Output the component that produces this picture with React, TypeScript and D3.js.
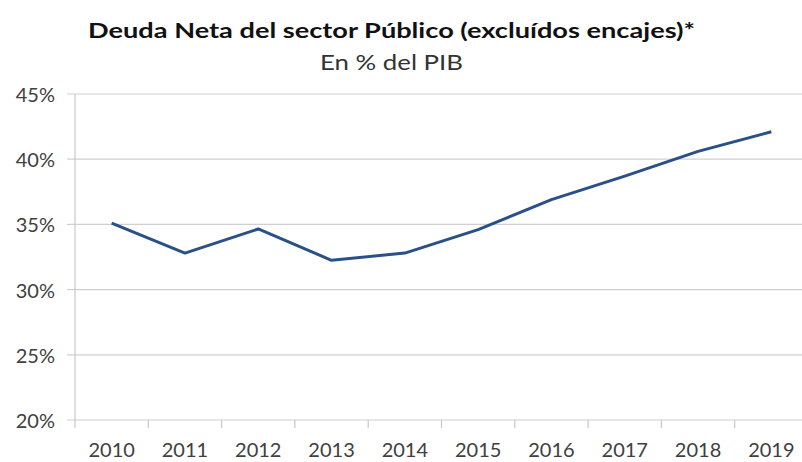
import { useEffect, useRef } from "react";
import * as d3 from "d3";

const YEARS = ["2010", "2011", "2012", "2013", "2014", "2015", "2016", "2017", "2018", "2019"];
const DEBT = [35.1, 32.8, 34.65, 32.25, 32.8, 34.6, 36.9, 38.7, 40.6, 42.1];
const Y_TICKS = [20, 25, 30, 35, 40, 45];

const TITLE = "Deuda Neta del sector Público (excluídos encajes)*";
const SUBTITLE = "En % del PIB";

export default function App() {
  const svgRef = useRef<SVGSVGElement | null>(null);

  useEffect(() => {
    if (!svgRef.current) return;
    const W = 802, H = 462;
    const margin = { top: 94, right: -6, bottom: 42, left: 75 };
    const innerW = W - margin.left - margin.right;
    const innerH = H - margin.top - margin.bottom;

    const svg = d3.select(svgRef.current);
    svg.selectAll("*").remove();
    svg.attr("width", W).attr("height", H).style("font-family", "Lato, 'Open Sans', sans-serif");

    svg.append("rect").attr("width", W).attr("height", H).attr("fill", "#fff");

    // title is drawn wide in the original, stretch to match
    svg.append("text").attr("x", 88).attr("y", 38)
      .attr("font-size", 21).attr("font-weight", 700).attr("fill", "#111")
      .attr("textLength", 607).attr("lengthAdjust", "spacingAndGlyphs").text(TITLE);
    svg.append("text").attr("x", 320).attr("y", 70)
      .attr("font-size", 21).attr("fill", "#333")
      .attr("textLength", 143).attr("lengthAdjust", "spacingAndGlyphs").text(SUBTITLE);

    const g = svg.append("g").attr("transform", `translate(${margin.left},${margin.top})`);

    const x = d3.scaleBand().domain(YEARS).range([0, innerW]);
    const y = d3.scaleLinear().domain([20, 45]).range([innerH, 0]);

    // gridlines + y labels
    for (const t of Y_TICKS) {
      g.append("line").attr("x1", -8).attr("x2", innerW).attr("y1", y(t)).attr("y2", y(t))
        .attr("stroke", "#d0d0d0").attr("stroke-width", 1.2);
      g.append("text").attr("x", -20).attr("y", y(t) + 8).attr("text-anchor", "end")
        .attr("font-size", 20).attr("fill", "#404040").text(`${t}%`);
    }

    // y axis line
    g.append("line").attr("x1", 0).attr("x2", 0).attr("y1", 0).attr("y2", innerH + 8)
      .attr("stroke", "#c8c8c8").attr("stroke-width", 1.2);

    // x tick marks between categories
    YEARS.forEach((yr) => {
      const bx = (x(yr) ?? 0) + x.bandwidth();
      g.append("line").attr("x1", bx).attr("x2", bx).attr("y1", innerH).attr("y2", innerH + 8)
        .attr("stroke", "#c8c8c8").attr("stroke-width", 1.2);
      g.append("text").attr("x", (x(yr) ?? 0) + x.bandwidth() / 2).attr("y", innerH + 37)
        .attr("text-anchor", "middle").attr("font-size", 20).attr("fill", "#404040").text(yr);
    });

    const line = d3.line<number>()
      .x((_, i) => (x(YEARS[i]) ?? 0) + x.bandwidth() / 2)
      .y((d) => y(d));

    g.append("path").datum(DEBT).attr("d", line).attr("fill", "none")
      .attr("stroke", "#2a5088").attr("stroke-width", 3).attr("stroke-linejoin", "round");
  }, []);

  return <svg ref={svgRef} style={{ display: "block", position: "absolute", left: 0, top: 0 }} />;
}
